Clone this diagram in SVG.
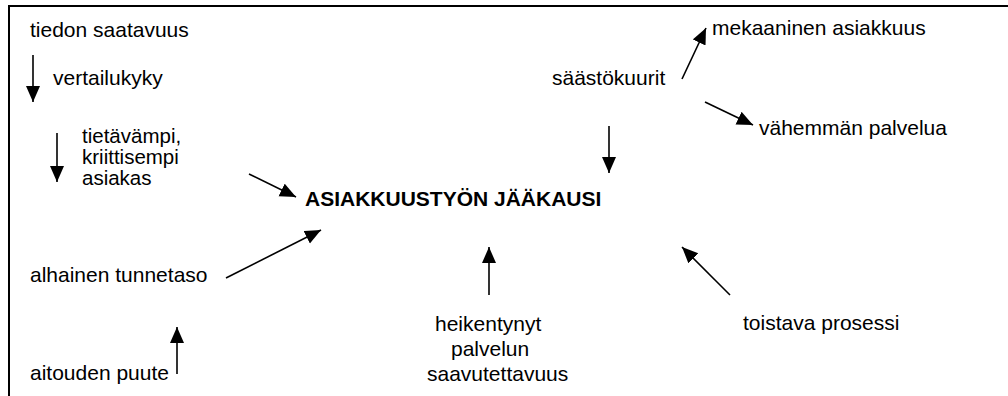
<svg xmlns="http://www.w3.org/2000/svg" width="1008" height="396" viewBox="0 0 1008 396">
<defs>
<style>
text{font-family:"Liberation Sans",Arial,sans-serif;font-size:21px;fill:#000}
.b{font-weight:bold}
.t{font-size:20.5px}
.c{stroke:#000;stroke-width:1.6;fill:none;marker-end:url(#ah)}
</style>
<marker id="ah" markerUnits="userSpaceOnUse" markerWidth="17" markerHeight="15" refX="16" refY="7" orient="auto">
<path d="M0,0 L16,7 L0,14 z" fill="#000"/>
</marker>
</defs>
<rect width="1008" height="396" fill="#fff"/>
<path d="M9,396 V6 H1008" stroke="#000" stroke-width="2" fill="none"/>
<g id="n-tiedon"><text x="30" y="37">tiedon saatavuus</text></g>
<g id="n-vertailu"><text x="53" y="85">vertailukyky</text></g>
<g id="n-tietavampi"><text class="t" x="82" y="143">tietävämpi,</text><text class="t" x="82" y="164">kriittisempi</text><text class="t" x="82" y="185">asiakas</text></g>
<g id="n-center"><text class="b" x="305" y="206">ASIAKKUUSTYÖN JÄÄKAUSI</text></g>
<g id="n-alhainen"><text x="30" y="282">alhainen tunnetaso</text></g>
<g id="n-aitouden"><text x="30" y="380">aitouden puute</text></g>
<g id="n-heikentynyt"><text x="435" y="331">heikentynyt</text><text x="451" y="356">palvelun</text><text x="427" y="381">saavutettavuus</text></g>
<g id="n-toistava"><text x="743" y="330">toistava prosessi</text></g>
<g id="n-saasto"><text x="552" y="85">säästökuurit</text></g>
<g id="n-mekaaninen"><text x="712" y="35">mekaaninen asiakkuus</text></g>
<g id="n-vahemman"><text x="759" y="135">vähemmän palvelua</text></g>
<g id="connectors">
<line class="c" x1="33" y1="55" x2="33" y2="102"/>
<line class="c" x1="57" y1="133" x2="57" y2="182"/>
<line class="c" x1="249" y1="174" x2="296" y2="197"/>
<line class="c" x1="226" y1="278" x2="321" y2="230"/>
<line class="c" x1="177" y1="374" x2="177" y2="327"/>
<line class="c" x1="489" y1="295" x2="489" y2="247"/>
<line class="c" x1="730" y1="295" x2="682" y2="247"/>
<line class="c" x1="609" y1="126" x2="609" y2="173"/>
<line class="c" x1="682" y1="79" x2="706" y2="28"/>
<line class="c" x1="705" y1="102" x2="753" y2="125"/>
</g>
</svg>
